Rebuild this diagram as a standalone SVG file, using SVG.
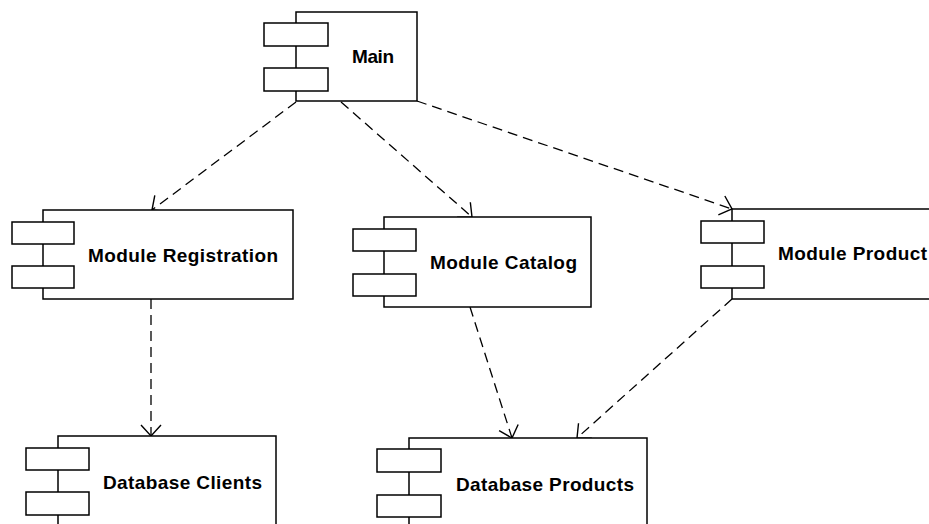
<svg xmlns="http://www.w3.org/2000/svg" width="929" height="524" viewBox="0 0 929 524">
  <style>
    .body { fill: #ffffff; stroke: #000000; stroke-width: 1.5; }
    .port { fill: #ffffff; stroke: #000000; stroke-width: 1.5; }
    .label { font-family: "Liberation Sans", Arial, sans-serif; font-weight: bold; font-size: 19px; fill: #000000; }
    .dep { fill: none; stroke: #000000; stroke-width: 1.3; stroke-dasharray: 10 6; }
  </style>
  <defs>
    <marker id="open-arrow" markerUnits="userSpaceOnUse" markerWidth="30" markerHeight="30" viewBox="-15 -15 30 30" refX="0" refY="0" orient="auto">
      <path d="M -11,-10 L 0,0 L -11,10" fill="none" stroke="#000000" stroke-width="1.4"/>
    </marker>
  </defs>
  <rect width="929" height="524" fill="#ffffff"/>

  <!-- dependencies -->
  <g id="connectors">
    <line class="dep" x1="296" y1="102" x2="152" y2="210" marker-end="url(#open-arrow)"/>
    <line class="dep" x1="341" y1="102" x2="472" y2="217" marker-end="url(#open-arrow)"/>
    <line class="dep" x1="417" y1="101" x2="732" y2="209" marker-end="url(#open-arrow)"/>
    <line class="dep" x1="151" y1="299" x2="151" y2="436" marker-end="url(#open-arrow)"/>
    <line class="dep" x1="470" y1="307" x2="512" y2="438" marker-end="url(#open-arrow)"/>
    <line class="dep" x1="732" y1="299" x2="577" y2="438" marker-end="url(#open-arrow)"/>
  </g>

  <g id="main">
    <rect class="body" x="296" y="12" width="121" height="89"/>
    <rect class="port" x="264" y="23" width="64" height="23"/>
    <rect class="port" x="264" y="68" width="64" height="23"/>
    <text class="label" x="352" y="63" textLength="42" lengthAdjust="spacing">Main</text>
  </g>

  <g id="module-registration">
    <rect class="body" x="43" y="210" width="250" height="89"/>
    <rect class="port" x="12" y="222" width="62" height="22"/>
    <rect class="port" x="12" y="266" width="62" height="22"/>
    <text class="label" x="88" y="262" textLength="190" lengthAdjust="spacing">Module Registration</text>
  </g>

  <g id="module-catalog">
    <rect class="body" x="384" y="217" width="207" height="90"/>
    <rect class="port" x="353" y="229" width="63" height="22"/>
    <rect class="port" x="353" y="274" width="63" height="22"/>
    <text class="label" x="430" y="269" textLength="147" lengthAdjust="spacing">Module Catalog</text>
  </g>

  <g id="module-product">
    <rect class="body" x="732" y="209" width="210" height="90"/>
    <rect class="port" x="701" y="221" width="63" height="22"/>
    <rect class="port" x="701" y="266" width="63" height="22"/>
    <text class="label" x="778" y="260" textLength="149" lengthAdjust="spacing">Module Product</text>
  </g>

  <g id="database-clients">
    <rect class="body" x="58" y="436" width="218" height="100"/>
    <rect class="port" x="26" y="448" width="63" height="22"/>
    <rect class="port" x="26" y="492" width="63" height="23"/>
    <text class="label" x="103" y="489" textLength="159" lengthAdjust="spacing">Database Clients</text>
  </g>

  <g id="database-products">
    <rect class="body" x="409" y="438" width="238" height="100"/>
    <rect class="port" x="377" y="449" width="64" height="23"/>
    <rect class="port" x="377" y="495" width="64" height="22"/>
    <text class="label" x="456" y="491" textLength="178" lengthAdjust="spacing">Database Products</text>
  </g>
</svg>
